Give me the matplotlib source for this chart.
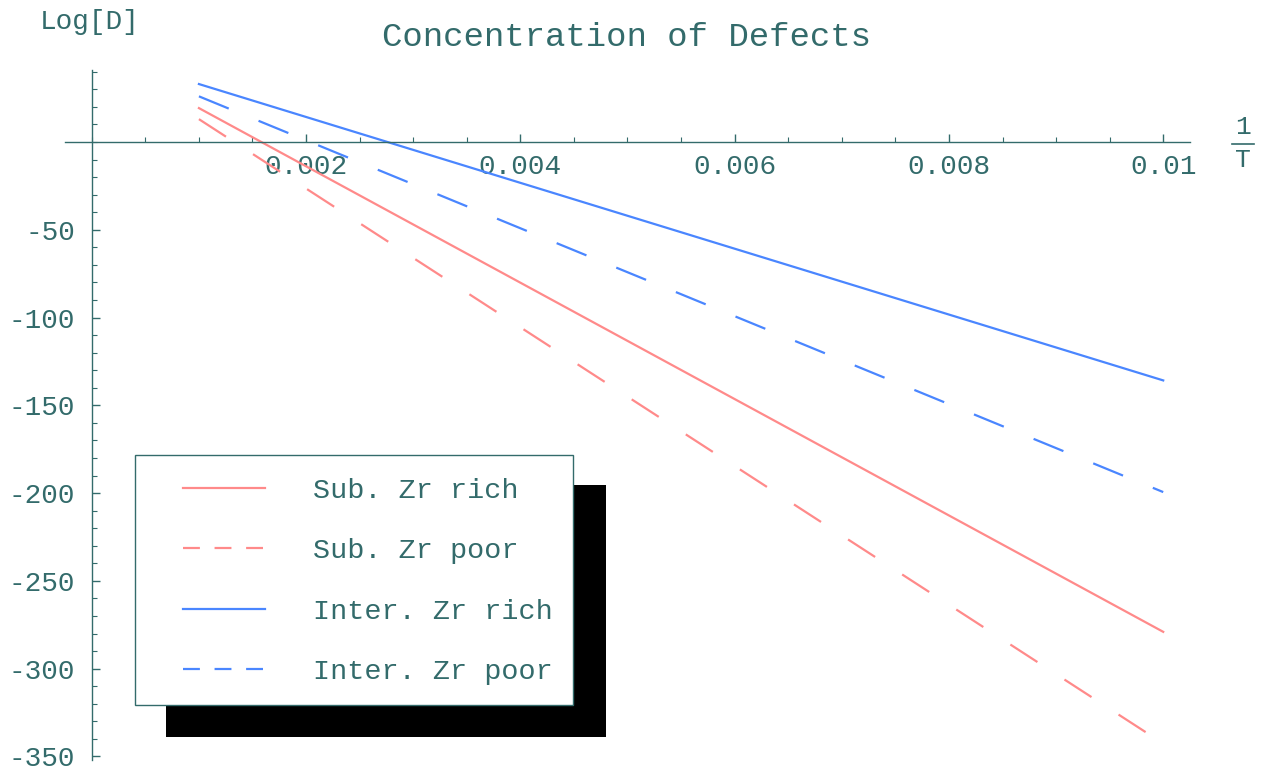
import matplotlib
matplotlib.use("Agg")
import matplotlib.pyplot as plt
from matplotlib.lines import Line2D
from matplotlib.patches import Rectangle
from matplotlib.ticker import MultipleLocator

# 1/T endpoints and Log[D]
inv_t = [0.001, 0.01]
sub_rich = [19.3, -279.0]
sub_poor = [13.0, -342.6]
inter_rich = [33.0, -135.8]
inter_poor = [26.0, -199.4]

labels = ["Sub. Zr rich", "Sub. Zr poor", "Inter. Zr rich", "Inter. Zr poor"]
xticks = [0.002, 0.004, 0.006, 0.008, 0.01]
xticklabels = ["0.002", "0.004", "0.006", "0.008", "0.01"]
yticks = [-50, -100, -150, -200, -250, -300, -350]
yticklabels = ["-50", "-100", "-150", "-200", "-250", "-300", "-350"]

ink = "#336b6b"
red = "#ff8a8a"
blue = "#4a86ff"
mono = "Liberation Mono"
plt.rcParams["font.family"] = [mono, "DejaVu Sans Mono"]

W, H = 1272, 774
fig = plt.figure(figsize=(W / 100, H / 100), dpi=100)
ax = fig.add_axes([65 / W, 14 / H, 1125 / W, 690 / H])

lw = 1.6
dash = (14.5, 14.5)
ax.plot(inv_t, sub_rich, color=red, lw=lw, label=labels[0])
ax.plot(inv_t, sub_poor, color=red, lw=lw, dashes=dash, label=labels[1])
ax.plot(inv_t, inter_rich, color=blue, lw=lw, label=labels[2])
ax.plot(inv_t, inter_poor, color=blue, lw=lw, dashes=dash, label=labels[3])

ax.set_xlim(-0.00025, 0.01025)
ax.set_ylim(-352, 41)

for s in ["top", "right"]:
    ax.spines[s].set_visible(False)
ax.spines["left"].set_position(("data", 0))
ax.spines["bottom"].set_position(("data", 0))
for s in ["left", "bottom"]:
    ax.spines[s].set_color(ink)
    ax.spines[s].set_linewidth(1.0)

ax.set_xticks(xticks)
ax.set_xticklabels(xticklabels)
ax.set_yticks(yticks)
ax.set_yticklabels(yticklabels)
ax.xaxis.set_minor_locator(MultipleLocator(0.0005))
ax.yaxis.set_minor_locator(MultipleLocator(10))
ax.tick_params(axis="both", which="major", direction="in", length=6, width=1,
               color=ink, labelcolor=ink, labelsize=20)
ax.tick_params(axis="both", which="minor", direction="in", length=3.5, width=0.8,
               color=ink)
ax.tick_params(axis="x", which="major", pad=9)
ax.tick_params(axis="y", which="major", pad=12)

fig.text(627 / W, 1 - 38 / H, "Concentration of Defects", ha="center",
         va="center", fontsize=24.5, color=ink)
fig.text(40 / W, 1 - 22 / H, "Log[D]", ha="left", va="center",
         fontsize=20, color=ink)
fig.text(1243 / W, 1 - 127 / H, "1", ha="center", va="center",
         fontsize=19, color=ink)
fig.text(1243 / W, 1 - 160 / H, "T", ha="center", va="center",
         fontsize=19, color=ink)
fig.add_artist(Line2D([1232 / W, 1254 / W], [1 - 144 / H, 1 - 144 / H],
                      color=ink, lw=1.2))

# legend box with a hard black drop shadow, drawn in pixel coords
shadow = Rectangle((166, H - 737), 440, 252, transform=None,
                   facecolor="black", edgecolor="none", zorder=5.4, clip_on=False)
frame = Rectangle((135, H - 705), 438, 250, transform=None,
                  facecolor="white", edgecolor=ink, lw=1.0, zorder=5.5,
                  clip_on=False)
ax.add_patch(shadow)
ax.add_patch(frame)

leg = ax.legend(loc="upper left", bbox_to_anchor=(183 / W, 1 - 478 / H),
                bbox_transform=fig.transFigure, fontsize=20.5, frameon=False,
                handlelength=2.88, handletextpad=1.68, labelspacing=1.21,
                borderpad=0, borderaxespad=0)
for t in leg.get_texts():
    t.set_color(ink)
for i in (1, 3):
    leg.get_lines()[i].set_dashes((7.6, 6.6))
leg.set_zorder(6)

fig.savefig("out.png", dpi=100)
